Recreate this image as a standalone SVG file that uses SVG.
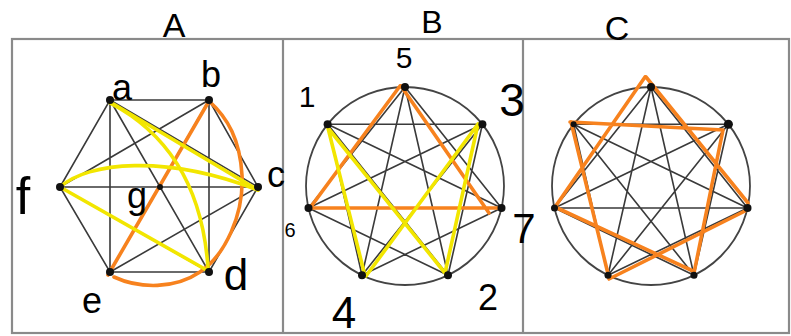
<svg xmlns="http://www.w3.org/2000/svg" width="791" height="336" viewBox="0 0 791 336">
<style>
.frame{fill:none;stroke:#8a8a8a;stroke-width:2.2}
.edge{stroke:#3a3a3a;stroke-width:1.6;fill:none;stroke-linecap:round}
.ring{fill:none;stroke:#444;stroke-width:1.8}
.or{stroke:#f7821e;stroke-width:3.6;fill:none;stroke-linecap:round}
.ye{stroke:#f2e600;stroke-width:3.6;fill:none;stroke-linecap:round}
.dot{fill:#111}
.lbl{font-family:"Liberation Sans",Arial,sans-serif;fill:#000;text-anchor:middle}
</style>
<rect width="791" height="336" fill="#fff"/>
<g id="frames">
<rect class="frame" x="12" y="39" width="777" height="294"/>
<line class="frame" x1="283" y1="39" x2="283" y2="333"/>
<line class="frame" x1="523" y1="39" x2="523" y2="333"/>
</g>
<g id="connectors">
<g id="edgesA">
<path class="edge" d="M110,100L209,100L258,187L209,272L110,272L60,187Z"/>
<path class="edge" d="M110,100L258,187M110,100L209,272M110,100L110,272M209,100L110,272M209,100L209,272M209,100L60,187M258,187L110,272M258,187L60,187M209,272L60,187"/>
</g>
<g id="edgesB">
<circle class="ring" cx="405" cy="186" r="99"/>
<path class="edge" d="M405,87L501.5,208M482.4,124.3L448,275.2M501.5,208L362,275.2M448,275.2L308.5,208M362,275.2L327.6,124.3M308.5,208L405,87M327.6,124.3L482.4,124.3"/>
<path class="edge" d="M405,87L448,275.2M482.4,124.3L362,275.2M501.5,208L308.5,208M448,275.2L327.6,124.3M362,275.2L405,87M308.5,208L482.4,124.3M327.6,124.3L501.5,208"/>
</g>
<g id="edgesC">
<circle class="ring" cx="651" cy="186" r="99"/>
<path class="edge" d="M651,87L747.5,208M728.4,124.3L694,275.2M747.5,208L608,275.2M694,275.2L554.5,208M608,275.2L573.6,124.3M554.5,208L651,87M573.6,124.3L728.4,124.3"/>
<path class="edge" d="M651,87L694,275.2M728.4,124.3L608,275.2M747.5,208L554.5,208M694,275.2L573.6,124.3M608,275.2L651,87M554.5,208L728.4,124.3M573.6,124.3L747.5,208"/>
</g>
<g id="highlightA">
<path class="or" d="M209,101L108,275"/>
<path class="or" d="M209,101C228,118 240,140 242,175C244,215 225,255 200,272C175,289 140,289 114,277"/>
<path class="ye" d="M110,102L258,190"/>
<path class="ye" d="M110,103Q200,150 208,268"/>
<path class="ye" d="M60,187C88,162 165,154 258,190"/>
<path class="ye" d="M60,187L210,272"/>
</g>
<g id="highlightB">
<path class="or" d="M400,86L310,208L502,208M401,86L489,213"/>
<path class="ye" d="M328,128L365,276M328,128L445,273M478,124L366,276M478,124L445,273"/>
</g>
<g id="highlightC">
<path class="or" d="M645,77L555,207M646,77L748,203M570,122L723,130M571,122L609,278M723,130L694,273M555,207L693,271M747,210L609,279"/>
</g>
</g>
<g id="nodesA">
<g id="node-a"><circle class="dot" cx="110" cy="100" r="4"/><text class="lbl" x="122" y="100" font-size="36">a</text></g>
<g id="node-b"><circle class="dot" cx="209" cy="100" r="4"/><text class="lbl" x="211" y="87" font-size="36">b</text></g>
<g id="node-c"><circle class="dot" cx="258" cy="187" r="4"/><text class="lbl" x="276" y="187" font-size="36">c</text></g>
<g id="node-d"><circle class="dot" cx="209" cy="272" r="4"/><text class="lbl" x="236" y="290" font-size="44">d</text></g>
<g id="node-e"><circle class="dot" cx="110" cy="272" r="4"/><text class="lbl" x="92" y="313" font-size="36">e</text></g>
<g id="node-f"><circle class="dot" cx="60" cy="187" r="4"/><text class="lbl" x="23" y="214" font-size="52">f</text></g>
<g id="node-g"><circle class="dot" cx="160" cy="187" r="3"/><text class="lbl" x="137" y="208" font-size="36">g</text></g>
</g>
<g id="nodesB">
<g id="node-5"><circle class="dot" cx="405" cy="87" r="4"/><text class="lbl" x="404" y="68" font-size="30">5</text></g>
<g id="node-3"><circle class="dot" cx="482.4" cy="124.3" r="4"/><text class="lbl" x="512" y="116" font-size="46">3</text></g>
<g id="node-7"><circle class="dot" cx="501.5" cy="208" r="4"/><text class="lbl" x="524" y="243" font-size="42">7</text></g>
<g id="node-2"><circle class="dot" cx="448" cy="275.2" r="4"/><text class="lbl" x="488" y="310" font-size="36">2</text></g>
<g id="node-4"><circle class="dot" cx="362" cy="275.2" r="4"/><text class="lbl" x="344" y="328" font-size="44">4</text></g>
<g id="node-6"><circle class="dot" cx="308.5" cy="208" r="4"/><text class="lbl" x="290" y="237" font-size="20">6</text></g>
<g id="node-1"><circle class="dot" cx="327.6" cy="124.3" r="4"/><text class="lbl" x="307" y="107" font-size="30">1</text></g>
</g>
<g id="nodesC">
<circle class="dot" cx="651" cy="87" r="4"/>
<circle class="dot" cx="728.4" cy="124.3" r="4.5"/>
<circle class="dot" cx="747.5" cy="208" r="4"/>
<circle class="dot" cx="694" cy="275.2" r="3.5"/>
<circle class="dot" cx="608" cy="275.2" r="3.5"/>
<circle class="dot" cx="554.5" cy="208" r="3.5"/>
<circle class="dot" cx="573.6" cy="124.3" r="3"/>
</g>
<g id="titles">
<text class="lbl" x="174" y="37" font-size="34">A</text>
<text class="lbl" x="432" y="33" font-size="32">B</text>
<text class="lbl" x="617" y="40" font-size="34">C</text>
</g>
</svg>
